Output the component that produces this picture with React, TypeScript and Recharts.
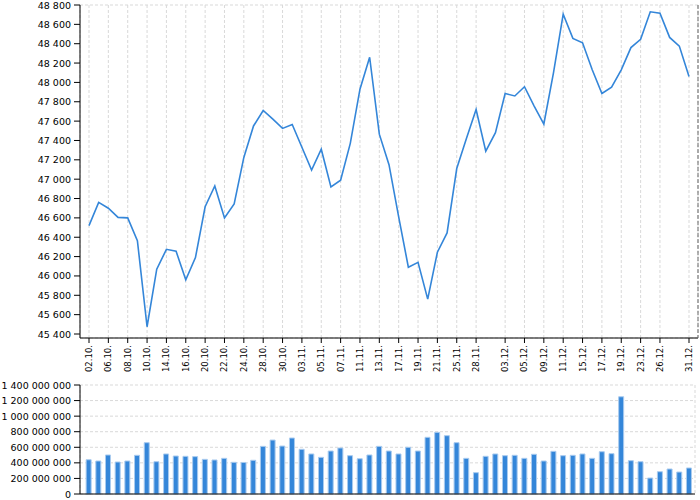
import { LineChart, Line, BarChart, Bar, XAxis, YAxis, CartesianGrid } from 'recharts';

const dates = [
  '02.10.', '03.10.', '06.10.', '07.10.', '08.10.', '09.10.', '10.10.', '13.10.', '14.10.', '15.10.',
  '16.10.', '17.10.', '20.10.', '21.10.', '22.10.', '23.10.', '24.10.', '27.10.', '28.10.', '29.10.',
  '30.10.', '31.10.', '03.11.', '04.11.', '05.11.', '06.11.', '07.11.', '10.11.', '11.11.', '12.11.',
  '13.11.', '14.11.', '17.11.', '18.11.', '19.11.', '20.11.', '21.11.', '24.11.', '25.11.', '26.11.',
  '28.11.', '01.12.', '02.12.', '03.12.', '04.12.', '05.12.', '08.12.', '09.12.', '10.12.', '11.12.',
  '12.12.', '15.12.', '16.12.', '17.12.', '18.12.', '19.12.', '22.12.', '23.12.', '24.12.', '26.12.',
  '29.12.', '30.12.', '31.12.',
];

const prices = [
  46520, 46760, 46700, 46605, 46600, 46365, 45475, 46070, 46275, 46255,
  45960, 46190, 46715, 46930, 46600, 46745, 47225, 47550, 47710, 47620,
  47525, 47565, 47330, 47095, 47310, 46920, 46990, 47370, 47930, 48260,
  47465, 47150, 46610, 46090, 46140, 45760, 46245, 46445, 47110, 47420,
  47720, 47290, 47480, 47885, 47860, 47955, 47755, 47570, 48100, 48705,
  48455, 48410, 48130, 47885, 47950, 48130, 48360, 48445, 48730, 48715,
  48465, 48375, 48060,
];

// millions
const volumes = [
  440, 424, 501, 411, 424, 497, 659, 415, 514, 488,
  484, 480, 445, 437, 458, 407, 405, 433, 612, 693,
  616, 719, 574, 514, 471, 552, 591, 492, 453, 501,
  612, 552, 514, 600, 552, 728, 792, 749, 659, 458,
  274, 484, 514, 492, 497, 458, 510, 424, 548, 492,
  497, 514, 458, 543, 518, 1249, 428, 415, 205, 286,
  321, 282, 334,
];

const dateTicks = [
  '02.10.', '06.10.', '08.10.', '10.10.', '14.10.', '16.10.', '20.10.', '22.10.', '24.10.', '28.10.',
  '30.10.', '03.11.', '05.11.', '07.11.', '11.11.', '13.11.', '17.11.', '19.11.', '21.11.', '25.11.',
  '28.11.', '03.12.', '05.12.', '09.12.', '11.12.', '15.12.', '17.12.', '19.12.', '23.12.', '26.12.',
  '31.12.',
];

const priceTicks = [45400, 45600, 45800, 46000, 46200, 46400, 46600, 46800, 47000, 47200, 47400, 47600, 47800, 48000, 48200, 48400, 48600, 48800];
const volumeTicks = [0, 200000000, 400000000, 600000000, 800000000, 1000000000, 1200000000, 1400000000];

const data = dates.map((d, i) => ({ date: d, price: prices[i], volume: volumes[i] * 1000000 }));

const fmt = (v: number) => String(v).replace(/\B(?=(\d{3})+(?!\d))/g, ' ');

const FONT = 'DejaVu Sans';
const BLUE = '#3486d9';

function DateTick(props: any) {
  const { x, y, payload } = props;
  return (
    <text x={x} y={y} transform={`rotate(-90, ${x}, ${y})`} textAnchor="end" dominantBaseline="central"
      fontSize={8.5} fontFamily={FONT} fill="#000">
      {payload.value}
    </text>
  );
}

function ValueTick(props: any) {
  const { x, y, payload } = props;
  return (
    <text x={x} y={y} textAnchor="end" dominantBaseline="central" fontSize={9.5} fontFamily={FONT} fill="#000">
      {fmt(payload.value)}
    </text>
  );
}

export default function App() {
  return (
    <div style={{ position: 'absolute', left: 0, top: 0, width: 700, height: 500, background: '#fff', fontFamily: FONT }}>
      <LineChart width={700} height={378} data={data} margin={{ top: 5, right: 0, left: 0, bottom: 0 }}>
        <CartesianGrid stroke="#d9d9d9" strokeDasharray="3 2" />
        <XAxis dataKey="date" ticks={dateTicks} interval={0} height={40} padding={{ left: 9, right: 9 }}
          axisLine={{ stroke: '#000' }} tickLine={{ stroke: '#000' }} tickSize={5} tickMargin={2} tick={<DateTick />} />
        <YAxis yAxisId="p" width={80} domain={[45400, 48800]} ticks={priceTicks} interval={0}
          padding={{ bottom: 4 }} allowDataOverflow
          axisLine={{ stroke: '#000' }} tickLine={{ stroke: '#000' }} tickSize={6} tickMargin={3}
          tick={<ValueTick />} />
        <YAxis yAxisId="r" orientation="right" width={2} tick={false} tickLine={false}
          axisLine={{ stroke: '#666', strokeDasharray: '4 2' }} />
        <Line yAxisId="p" type="linear" dataKey="price" stroke={BLUE} strokeWidth={1.6} dot={false} isAnimationActive={false} />
      </LineChart>
      <BarChart width={700} height={122} data={data} margin={{ top: 7, right: 5, left: 0, bottom: 0 }} barCategoryGap="22%">
        <CartesianGrid stroke="#d9d9d9" strokeDasharray="3 2" />
        <XAxis dataKey="date" ticks={dateTicks} interval={0} height={6} padding={{ left: 4, right: 1 }}
          axisLine={{ stroke: '#000' }} tickLine={false} tick={false} />
        <YAxis width={80} domain={[0, 1400000000]} ticks={volumeTicks} interval={0}
          axisLine={{ stroke: '#000' }} tickLine={{ stroke: '#000' }} tickSize={6} tickMargin={3}
          tick={<ValueTick />} />
        <Bar dataKey="volume" fill={BLUE} stroke="#a9cbef" strokeWidth={1} isAnimationActive={false} />
      </BarChart>
    </div>
  );
}
